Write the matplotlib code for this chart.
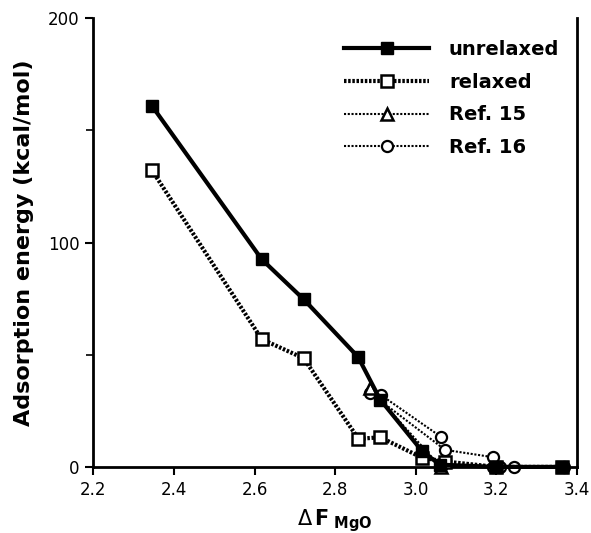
import numpy as np
import matplotlib
matplotlib.use("Agg")
import matplotlib.pyplot as plt

# data
unrelaxed_x = [2.345, 2.618, 2.722, 2.857, 2.912, 3.016, 3.060, 3.200, 3.364]
unrelaxed_y = [161.0, 92.5, 74.7, 49.0, 30.0, 7.0, 1.0, 0.0, 0.0]

relaxed_x = [2.345, 2.618, 2.722, 2.858, 2.912, 3.016, 3.073, 3.200, 3.364]
relaxed_y = [132.3, 56.9, 48.4, 12.5, 13.2, 4.1, 2.4, 0.0, 0.0]

ref15_x = [2.886, 3.062]
ref15_y = [35.0, 0.0]

# NaN breaks separate the sub-paths drawn for Ref. 16
ref16_x = [2.914, 3.062, np.nan, 2.887, 3.073, 3.193, np.nan, 3.065, 3.193, 3.210, 3.244, 3.368]
ref16_y = [32.0, 13.5, np.nan, 33.0, 7.6, 4.3, np.nan, 0.9, 0.0, 0.0, 0.0, 0.0]

xticks = [2.2, 2.4, 2.6, 2.8, 3.0, 3.2, 3.4]
yticks = [0, 100, 200]

fig = plt.figure(figsize=(5.91, 5.33), dpi=100)
ax = fig.add_axes([0.158, 0.124, 0.818, 0.842])

ax.plot(ref16_x, ref16_y, color="black", lw=1.5, ls=(0, (1, 0.8)), clip_on=False,
        marker="o", ms=8, mfc="white", mec="black", mew=1.6, label="Ref. 16", zorder=2)
ax.plot(ref15_x, ref15_y, color="black", lw=1.5, ls=(0, (1, 0.8)), clip_on=False,
        marker="^", ms=9, mfc="white", mec="black", mew=1.8, label="Ref. 15", zorder=3)
ax.plot(relaxed_x, relaxed_y, color="black", lw=3, ls=(0, (0.6, 0.4)), clip_on=False,
        marker="s", ms=9, mfc="white", mec="black", mew=1.8, label="relaxed", zorder=4)
ax.plot(unrelaxed_x, unrelaxed_y, color="black", lw=3, ls="-", clip_on=False,
        marker="s", ms=9, mfc="black", mec="black", label="unrelaxed", zorder=5)

ax.set_xlim(2.2, 3.4)
ax.set_ylim(0, 200)
ax.set_xticks(xticks)
ax.set_xticklabels([f"{t:.1f}" for t in xticks])
ax.set_yticks(yticks)
ax.set_yticks([50, 150], minor=True)
ax.tick_params(axis="both", which="major", direction="out", length=6, width=1.5, labelsize=12, pad=4)
ax.tick_params(axis="y", which="minor", direction="out", length=5, width=1.2)

ax.spines["top"].set_visible(False)
for s in ["left", "bottom", "right"]:
    ax.spines[s].set_linewidth(2)

ax.set_ylabel("Adsorption energy (kcal/mol)", fontsize=16, fontweight="bold", labelpad=10)
ax.set_xlabel(r"$\Delta\,\mathbf{F}_{\ \mathbf{MgO}}$", fontsize=15, labelpad=6)

handles, labels = ax.get_legend_handles_labels()
order = [3, 2, 1, 0]
ax.legend([handles[i] for i in order], [labels[i] for i in order],
          loc="upper right", bbox_to_anchor=(1.0, 0.99), frameon=False,
          handlelength=4.4, handletextpad=1.0, labelspacing=0.7,
          prop={"weight": "bold", "size": 14})

fig.savefig("out.png", dpi=100)
